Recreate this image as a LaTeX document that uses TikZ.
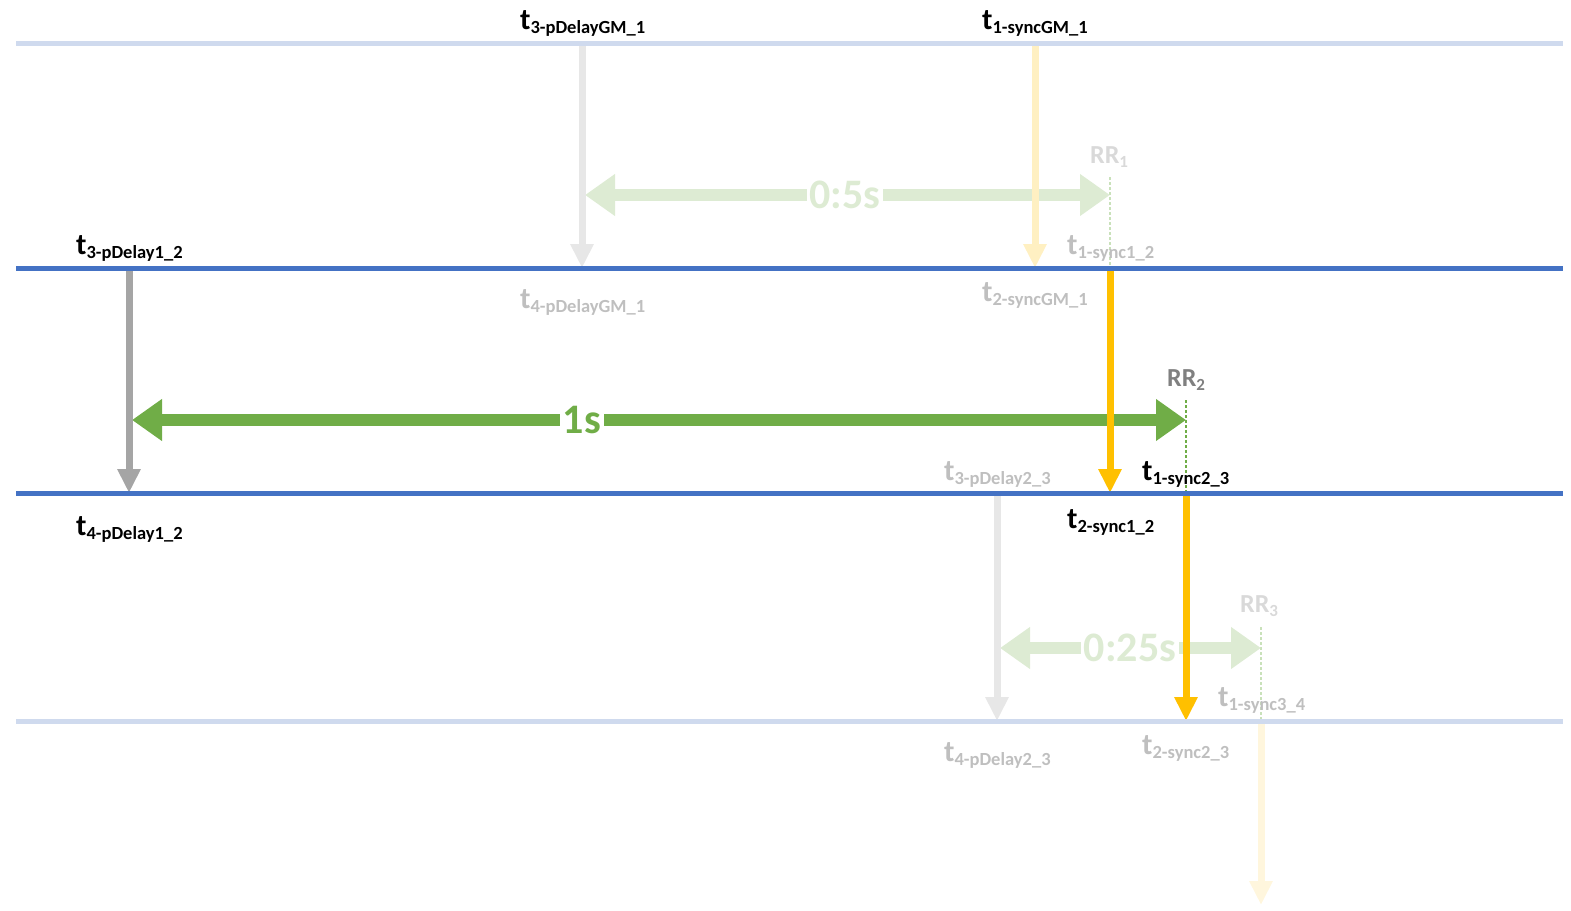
\documentclass[tikz,border=0pt]{standalone}
\usepackage{fontspec}
\setmainfont{Carlito}
\usetikzlibrary{arrows.meta}

\definecolor{lineblue}{HTML}{4472C4}
\definecolor{paleblue}{HTML}{CFDAEE}
\definecolor{syncorange}{HTML}{FFC000}
\definecolor{paleorange}{HTML}{FFF0C2}
\definecolor{faintorange}{HTML}{FFF6DD}
\definecolor{delaygray}{HTML}{A5A5A5}
\definecolor{palegray}{HTML}{E7E7E7}
\definecolor{rrgreen}{HTML}{70AD47}
\definecolor{palegreen}{HTML}{DDEBD3}
\definecolor{dotgreen}{HTML}{C9E1BA}
\definecolor{labelgray}{HTML}{BFBFBF}
\definecolor{rrgray}{HTML}{808080}
\definecolor{rrpale}{HTML}{D9D9D9}

% t with its subscript
\newcommand{\tstamp}[1]{t\raisebox{-4pt}{\fontsize{18.5}{18.5}\selectfont #1}}
\newcommand{\rrname}[1]{RR\raisebox{-4pt}{\fontsize{17}{17}\selectfont #1}}

\begin{document}
\begin{tikzpicture}[x=1pt,y=-1pt,
  timeline/.style={line width=5pt,lineblue},
  pale timeline/.style={line width=5pt,paleblue},
  msg/.style={line width=7pt,-{Triangle[width=22pt,length=24pt]}},
  span/.style={line width=12pt,{Triangle[width=40pt,length=30pt]}-{Triangle[width=40pt,length=30pt]}},
  spanlabel/.style={fill=white,inner sep=2.5pt,font=\fontsize{42}{42}\selectfont\bfseries},
  tlabel/.style={anchor=base west,inner sep=0pt,font=\fontsize{30}{30}\selectfont\bfseries},
  rrlabel/.style={anchor=base west,inner sep=0pt,font=\fontsize{26}{26}\selectfont\bfseries},
  rrmark/.style={line width=2.5pt,dash pattern=on 2.5pt off 2.5pt}]

\useasboundingbox (0,0) rectangle (1571,910);

% Timelines
\coordinate (gmL) at (16,43);   \coordinate (gmR) at (1563,43);
\coordinate (n1L) at (16,268);  \coordinate (n1R) at (1563,268);
\coordinate (n2L) at (16,493);  \coordinate (n2R) at (1563,493);
\coordinate (n3L) at (16,721);  \coordinate (n3R) at (1563,721);

% Message events
\coordinate (pdGMtx) at (582,43);   \coordinate (pdGMrx) at (582,268);
\coordinate (syGMtx) at (1035,43);  \coordinate (syGMrx) at (1035,268);
\coordinate (pd12tx) at (129,268);  \coordinate (pd12rx) at (129,493);
\coordinate (sy12tx) at (1110,268); \coordinate (sy12rx) at (1110,493);
\coordinate (pd23tx) at (997,493);  \coordinate (pd23rx) at (997,721);
\coordinate (sy23tx) at (1186,493); \coordinate (sy23rx) at (1186,721);
\coordinate (sy34tx) at (1261,721); \coordinate (sy34rx) at (1261,905);

% Residence times
\coordinate (half0) at (585,195);   \coordinate (half1) at (1110,195);
\coordinate (one0) at (132,420);    \coordinate (one1) at (1186,420);
\coordinate (quart0) at (1000,648); \coordinate (quart1) at (1261,648);
\coordinate (rr1top) at (1110,177);
\coordinate (rr2top) at (1186,400);
\coordinate (rr3top) at (1261,627);

\draw[rrmark,dotgreen] (rr1top) -- (sy12tx);
\draw[rrmark,rrgreen] (rr2top) -- (sy23tx);
\draw[rrmark,dotgreen] (rr3top) -- (sy34tx);

\draw[span,palegreen] (half0) -- (half1);
\node[spanlabel,text=palegreen] (halfs) at (845,195) {0:5s};
\draw[span,rrgreen] (one0) -- (one1);
\node[spanlabel,text=rrgreen] (ones) at (582,420) {1s};
\draw[span,palegreen] (quart0) -- (quart1);
\node[spanlabel,text=palegreen] (quarts) at (1130,648) {0:25s};

% Messages
\draw[msg,palegray] (pdGMtx) -- (pdGMrx);
\draw[msg,paleorange] (syGMtx) -- (syGMrx);
\draw[msg,delaygray] (pd12tx) -- (pd12rx);
\draw[msg,syncorange] (sy12tx) -- (sy12rx);
\draw[msg,palegray] (pd23tx) -- (pd23rx);
\draw[msg,syncorange] (sy23tx) -- (sy23rx);
\draw[msg,faintorange] (sy34tx) -- (sy34rx);

\draw[pale timeline] (gmL) -- (gmR);
\draw[timeline] (n1L) -- (n1R);
\draw[timeline] (n2L) -- (n2R);
\draw[pale timeline] (n3L) -- (n3R);

% Labels
\node[tlabel] (t3pdGM) at (520,29) {\tstamp{3-pDelayGM\_1}};
\node[tlabel] (t1syGM) at (982,29) {\tstamp{1-syncGM\_1}};
\node[tlabel] (t3pd12) at (76,254) {\tstamp{3-pDelay1\_2}};
\node[tlabel,labelgray] (t1sy12) at (1067,254) {\tstamp{1-sync1\_2}};
\node[tlabel,labelgray] (t4pdGM) at (520,308) {\tstamp{4-pDelayGM\_1}};
\node[tlabel,labelgray] (t2syGM) at (982,301) {\tstamp{2-syncGM\_1}};
\node[tlabel,labelgray] (t3pd23) at (944,480) {\tstamp{3-pDelay2\_3}};
\node[tlabel] (t1sy23) at (1142,480) {\tstamp{1-sync2\_3}};
\node[tlabel] (t4pd12) at (76,535) {\tstamp{4-pDelay1\_2}};
\node[tlabel] (t2sy12) at (1067,528) {\tstamp{2-sync1\_2}};
\node[tlabel,labelgray] (t4pd23) at (944,761) {\tstamp{4-pDelay2\_3}};
\node[tlabel,labelgray] (t2sy23) at (1142,754) {\tstamp{2-sync2\_3}};
\node[tlabel,labelgray] (t1sy34) at (1218,706) {\tstamp{1-sync3\_4}};

\node[rrlabel,rrpale] (rr1) at (1090,163) {\rrname{1}};
\node[rrlabel,rrgray] (rr2) at (1167,386) {\rrname{2}};
\node[rrlabel,rrpale] (rr3) at (1240,612) {\rrname{3}};

\end{tikzpicture}
\end{document}
